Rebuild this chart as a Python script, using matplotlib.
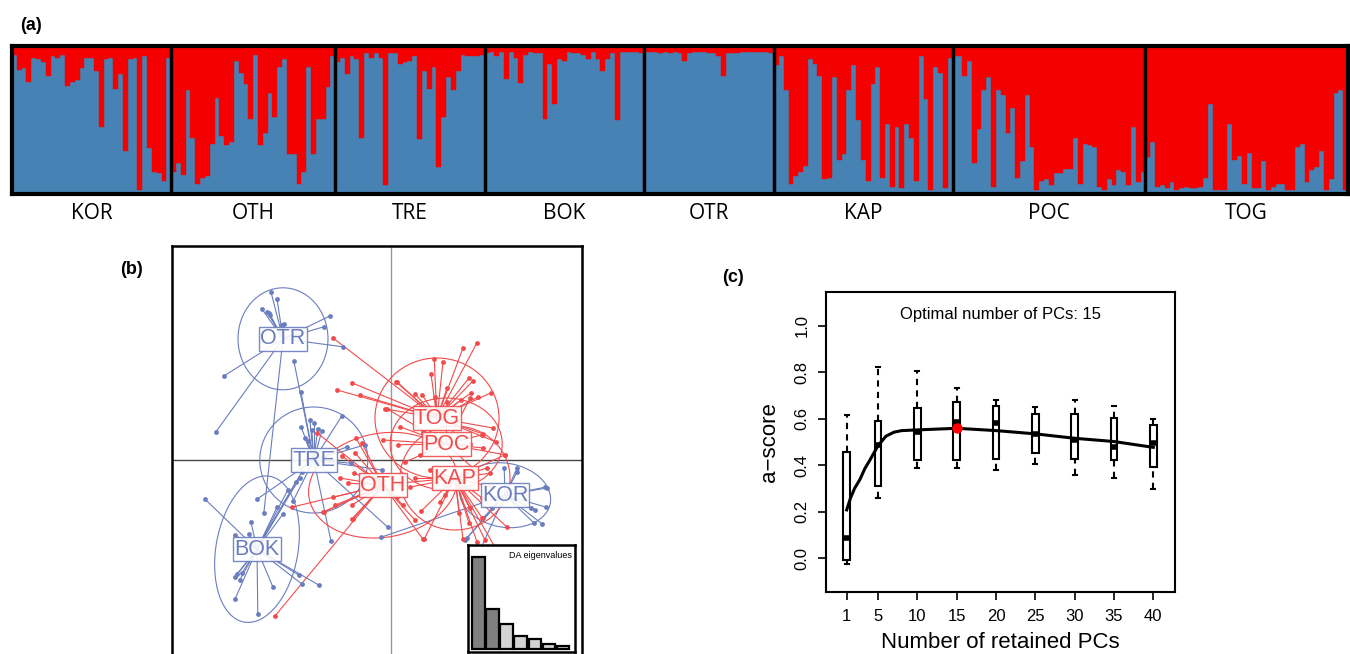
import numpy as np
import matplotlib.pyplot as plt
from matplotlib.patches import Ellipse
from matplotlib.transforms import blended_transform_factory

# ---------------- data: panel (a) membership (blue share per individual)
pops = ["KOR", "OTH", "TRE", "BOK", "OTR", "KAP", "POC", "TOG"]
kor = [0.94, 0.84, 0.85, 0.76, 0.92, 0.91, 0.89, 0.80, 0.93, 0.92, 0.94, 0.73, 0.76, 0.77, 0.85, 0.92, 0.92,
       0.83, 0.45, 0.91, 0.92, 0.71, 0.81, 0.29, 0.91, 0.92, 0.03, 0.93, 0.31, 0.15, 0.14, 0.09, 0.92]
oth = [0.15, 0.21, 0.13, 0.70, 0.38, 0.07, 0.11, 0.12, 0.34, 0.65, 0.39, 0.33, 0.35, 0.90, 0.82, 0.74, 0.51,
       0.94, 0.33, 0.41, 0.68, 0.52, 0.86, 0.91, 0.27, 0.27, 0.07, 0.15, 0.86, 0.27, 0.51, 0.51, 0.72, 0.93]
tre = [0.89, 0.92, 0.81, 0.93, 0.91, 0.38, 0.95, 0.92, 0.95, 0.92, 0.06, 0.95, 0.95, 0.88, 0.89, 0.90, 0.93,
       0.37, 0.83, 0.71, 0.86, 0.18, 0.52, 0.79, 0.70, 0.83, 0.94, 0.93, 0.93, 0.93, 0.94]
bok = [0.95, 0.96, 0.93, 0.96, 0.78, 0.96, 0.92, 0.75, 0.94, 0.96, 0.95, 0.95, 0.51, 0.88, 0.61, 0.91, 0.90,
       0.96, 0.95, 0.95, 0.94, 0.91, 0.96, 0.91, 0.83, 0.91, 0.95, 0.50, 0.96, 0.96, 0.96, 0.96, 0.95]
otr = [0.96, 0.96, 0.96, 0.95, 0.96, 0.95, 0.96, 0.95, 0.90, 0.95, 0.96, 0.96, 0.96, 0.95, 0.95, 0.93, 0.80,
       0.95, 0.95, 0.95, 0.96, 0.96, 0.96, 0.96, 0.96, 0.96, 0.95]
kap = [0.87, 0.93, 0.70, 0.07, 0.12, 0.15, 0.19, 0.91, 0.88, 0.80, 0.10, 0.11, 0.79, 0.23, 0.27, 0.70, 0.87,
       0.50, 0.23, 0.09, 0.74, 0.86, 0.11, 0.47, 0.05, 0.45, 0.04, 0.47, 0.38, 0.09, 0.93, 0.64, 0.03, 0.86,
       0.82, 0.04, 0.92]
poc = [0.93, 0.93, 0.80, 0.90, 0.21, 0.44, 0.70, 0.79, 0.05, 0.70, 0.67, 0.41, 0.58, 0.11, 0.22, 0.67, 0.32,
       0.03, 0.09, 0.10, 0.06, 0.14, 0.14, 0.17, 0.17, 0.38, 0.07, 0.34, 0.33, 0.32, 0.05, 0.03, 0.10, 0.06,
       0.16, 0.15, 0.06, 0.45, 0.08, 0.15]
tog = [0.25, 0.35, 0.05, 0.06, 0.04, 0.08, 0.03, 0.04, 0.05, 0.04, 0.04, 0.05, 0.11, 0.61, 0.03, 0.03, 0.03,
       0.47, 0.23, 0.26, 0.07, 0.28, 0.04, 0.04, 0.22, 0.03, 0.05, 0.07, 0.07, 0.03, 0.03, 0.32, 0.34, 0.08,
       0.16, 0.18, 0.29, 0.03, 0.10, 0.68, 0.70, 0.03]

# ---------------- data: panel (b) DAPC scatter (centroid + individuals)
otr_c = (-2.70, 3.03)
otr_pts = [(-3.00, 4.20), (-2.85, 4.03), (-3.23, 3.78), (-3.10, 3.70), (-3.05, 3.68), (-3.03, 3.63),
           (-2.73, 3.38), (-2.68, 3.40), (-1.53, 3.60), (-1.68, 3.33), (-1.20, 2.83), (-4.18, 2.10),
           (-4.38, 0.70), (-3.18, -1.33)]
tre_c = (-1.93, 0.0)
tre_pts = [(-2.25, 0.83), (-2.03, 1.00), (-1.93, 0.93), (-1.83, 0.78), (-1.73, 0.73), (-2.08, 0.48),
           (-1.23, 1.10), (-2.43, 2.48), (-2.25, 1.70), (-1.50, -2.03), (-0.08, -1.68), (-3.35, -0.98),
           (-2.45, -1.03), (-1.00, -0.08), (-0.65, 0.38), (-0.23, -0.25), (-1.10, 0.33), (-1.98, 0.75),
           (-2.15, 0.55)]
bok_c = (-3.35, -2.23)
bok_pts = [(-4.65, -0.98), (-3.90, -1.88), (-3.55, -1.85), (-3.50, -1.55), (-3.90, -2.93), (-3.85, -2.85),
           (-3.78, -3.00), (-3.73, -2.83), (-3.90, -3.48), (-3.33, -3.85), (-2.95, -3.18), (-2.30, -2.88),
           (-2.23, -3.10), (-1.80, -3.13), (-2.85, -1.18), (-2.70, -1.35), (-2.58, -0.75), (-2.38, -0.55),
           (-2.23, -0.30), (-2.28, -0.45)]
kor_c = (2.85, -0.88)
kor_pts = [(2.83, -0.20), (3.15, -0.20), (3.85, -0.68), (3.60, -1.25), (3.50, -1.20), (3.58, -1.58),
           (2.53, -1.20), (1.85, -2.00), (2.25, -2.20), (-0.25, -1.93), (3.90, -0.70), (3.88, -1.18),
           (3.78, -1.60), (3.15, -0.30), (1.90, -1.95), (2.30, -1.45)]
oth_c = (-0.20, -0.63)
oth_pts = [(-2.48, -1.18), (-1.68, -1.30), (-1.40, -1.13), (-0.98, -1.13), (-0.98, -1.48), (-1.28, -0.45),
           (-1.08, -0.58), (-0.93, -0.33), (-2.90, -3.90), (-1.23, 0.10), (-0.90, 0.18), (-1.85, 0.68),
           (-0.88, 0.55), (-0.73, 0.43), (-0.95, -1.48), (-1.45, -0.93), (-1.70, -1.30), (0.80, -1.98),
           (0.30, -1.13), (0.15, -0.93), (0.60, -1.50)]
tog_c = (1.15, 1.05)
tog_pts = [(1.80, 2.80), (2.15, 2.93), (1.08, 2.53), (1.30, 2.45), (1.00, 2.15), (0.13, 1.95), (1.95, 2.05),
           (2.05, 1.98), (1.40, 1.80), (2.50, 1.68), (2.00, 1.68), (2.18, 1.58), (0.60, 1.65), (0.78, 1.63),
           (1.10, 1.58), (1.75, 1.50), (-0.15, 1.28), (2.55, 0.80), (2.63, 0.45), (-1.45, 3.05),
           (-0.98, 1.93), (-1.35, 1.75), (-0.78, 1.63), (0.15, 1.95), (2.30, 0.65)]
poc_c = (1.38, 0.40)
poc_pts = [(-0.10, 1.28), (-0.20, 0.50), (0.18, 0.38), (0.23, 0.83), (2.28, 0.63), (2.30, 0.30), (2.85, 0.13),
           (1.98, 1.55), (1.40, 1.45), (0.80, 0.70), (0.35, -0.05), (1.98, 0.40), (0.73, 0.13), (2.10, -0.25)]
kap_c = (1.60, -0.45)
kap_pts = [(0.83, -1.98), (1.80, -1.98), (2.15, -2.05), (2.35, -2.00), (0.75, -1.28), (1.23, -1.05),
           (1.70, -1.33), (2.28, -1.45), (1.95, -1.58), (2.48, -0.33), (2.85, 0.13), (2.40, -0.20),
           (0.48, -0.68), (0.20, -0.58), (2.53, -0.68), (2.28, -0.95), (1.35, -0.88), (2.60, -2.18),
           (2.90, -1.68), (1.98, -1.20), (0.98, -0.25), (0.60, -0.45)]
da_eig = [1.0, 0.43, 0.27, 0.14, 0.11, 0.054, 0.027]

# ---------------- data: panel (c) a-score
n_pcs = [1, 5, 10, 15, 20, 25, 30, 35, 40]
wh_lo = [-0.024, 0.258, 0.387, 0.387, 0.380, 0.407, 0.358, 0.344, 0.297]
q1 = [-0.007, 0.312, 0.423, 0.423, 0.426, 0.451, 0.429, 0.423, 0.391]
med = [0.089, 0.487, 0.545, 0.588, 0.580, 0.535, 0.509, 0.477, 0.497]
q3 = [0.459, 0.590, 0.648, 0.671, 0.656, 0.621, 0.619, 0.602, 0.573]
wh_hi = [0.616, 0.824, 0.807, 0.731, 0.681, 0.652, 0.681, 0.656, 0.598]
fit_x = [1, 1.5, 2, 2.7, 3.3, 4, 5, 6, 7, 8, 10, 15, 20, 25, 30, 35, 40]
fit_y = [0.208, 0.26, 0.30, 0.34, 0.385, 0.425, 0.485, 0.525, 0.542, 0.549, 0.552, 0.559, 0.549, 0.535,
         0.516, 0.502, 0.477]
best_pc = 15
best_score = 0.559

BLUE_BAR = "#4682B4"
RED_BAR = "#F50000"
BLUE = "#6A7DBE"
RED = "#F24B4B"

W, H = 1350, 654
fig = plt.figure(figsize=(13.5, 6.54), dpi=100)


def px_axes(l, t, r, b):
    return fig.add_axes([l / W, 1 - b / H, (r - l) / W, (b - t) / H])


# ================= (a)
ax = px_axes(12, 46, 1348, 194)
groups = [kor, oth, tre, bok, otr, kap, poc, tog]
blue = np.concatenate(groups)
x = np.arange(len(blue))
ax.bar(x, blue, width=1.0, align="edge", color=BLUE_BAR, edgecolor=BLUE_BAR, linewidth=0.3)
ax.bar(x, 1 - blue, bottom=blue, width=1.0, align="edge", color=RED_BAR, edgecolor=RED_BAR, linewidth=0.3)
ax.set_xlim(0, len(blue))
ax.set_ylim(0, 1)
ax.set_xticks([])
ax.set_yticks([])
for s in ax.spines.values():
    s.set_linewidth(3)
bounds = np.cumsum([0] + [len(g) for g in groups])
for b in bounds[1:-1]:
    ax.axvline(b, color="black", lw=2.5)
tr = blended_transform_factory(ax.transData, ax.transAxes)
for i, name in enumerate(pops):
    ax.text((bounds[i] + bounds[i + 1]) / 2, -0.13, name, transform=tr, ha="center", va="center",
            fontsize=15, family="Open Sans")
fig.text(20 / W, 1 - 25 / H, "(a)", fontsize=13, fontweight="bold", family="Liberation Sans", va="center")

# ================= (b)
axb = px_axes(172, 246, 582, 658)
axb.set_xlim((172 - 391) / 40, (582 - 391) / 40)
axb.set_ylim((460 - 658) / 40, (460 - 246) / 40)
axb.axvline(0, color="#999999", lw=1.0, zorder=0)
axb.axhline(0, color="#444444", lw=1.0, zorder=0)

scatter_groups = [
    ("OTR", otr_c, otr_pts, BLUE, (2.25, 2.55, 0)),
    ("TRE", tre_c, tre_pts, BLUE, (2.7, 2.65, 0)),
    ("BOK", bok_c, bok_pts, BLUE, (3.7, 2.05, 80)),
    ("KOR", kor_c, kor_pts, BLUE, (2.3, 1.6, -10)),
    ("OTH", oth_c, oth_pts, RED, (3.75, 2.6, 10)),
    ("TOG", tog_c, tog_pts, RED, (3.1, 3.0, 0)),
    ("POC", poc_c, poc_pts, RED, (2.8, 2.3, 0)),
    ("KAP", kap_c, kap_pts, RED, (2.75, 2.6, 0)),
]
for name, c, pts, col, (ew, eh, ang) in scatter_groups:
    pts = np.array(pts)
    for px_, py_ in pts:
        axb.plot([c[0], px_], [c[1], py_], color=col, lw=0.8, zorder=2)
    axb.scatter(pts[:, 0], pts[:, 1], s=12, color=col, zorder=3, linewidths=0)
    axb.add_patch(Ellipse(c, ew, eh, angle=ang, fill=False, ec=col, lw=0.8, zorder=2))
for name, c, pts, col, _ in scatter_groups:
    axb.text(c[0], c[1], name, color=col, fontsize=15.5, ha="center", va="center",
             family="Liberation Sans", zorder=5,
             bbox=dict(boxstyle="square,pad=0.06", fc="white", ec=col, lw=1.0, alpha=0.9))
axb.set_xticks([])
axb.set_yticks([])
for s in axb.spines.values():
    s.set_linewidth(1.8)
fig.text(120 / W, 1 - 270 / H, "(b)", fontsize=13, fontweight="bold", family="Liberation Sans", va="center")

# inset eigenvalues
axi = px_axes(468, 545, 575, 652)
cols = ["#808080"] * 2 + ["#D3D3D3"] * (len(da_eig) - 2)
axi.bar(np.arange(len(da_eig)), da_eig, width=0.86, color=cols, edgecolor="black", linewidth=1.6)
axi.set_xlim(-0.75, 6.89)
axi.set_ylim(-0.033, 1.13)
axi.set_xticks([])
axi.set_yticks([])
for s in axi.spines.values():
    s.set_linewidth(1.8)
axi.text(0.97, 0.9, "DA eigenvalues", transform=axi.transAxes, ha="right", va="center", fontsize=6.5,
         family="Liberation Sans")

# ================= (c)
axc = px_axes(826, 292, 1175, 592)
axc.plot(fit_x, fit_y, color="black", lw=2.2, zorder=3)
bw = 0.85
for p, lo, a, m, b, hi in zip(n_pcs, wh_lo, q1, med, q3, wh_hi):
    axc.add_patch(plt.Rectangle((p - bw / 2, a), bw, b - a, fill=False, ec="black", lw=1.5, zorder=2))
    axc.plot([p, p], [b, hi], color="black", lw=1.5, ls=(0, (3, 2.5)), zorder=2)
    axc.plot([p, p], [lo, a], color="black", lw=1.5, ls=(0, (3, 2.5)), zorder=2)
    axc.plot([p - 0.25, p + 0.25], [hi, hi], color="black", lw=1.5, zorder=2)
    axc.plot([p - 0.25, p + 0.25], [lo, lo], color="black", lw=1.5, zorder=2)
    axc.plot([p - bw / 2, p + bw / 2], [m, m], color="black", lw=4, solid_capstyle="butt", zorder=4)
axc.plot([best_pc], [best_score], "o", color="red", ms=6.5, zorder=5)
axc.set_xlim(-1.63, 42.76)
axc.set_ylim(-0.145, 1.145)
axc.set_xticks(n_pcs)
axc.set_xticklabels([str(v) for v in n_pcs], fontsize=12, family="Liberation Sans")
yt = [0.0, 0.2, 0.4, 0.6, 0.8, 1.0]
axc.set_yticks(yt)
axc.set_yticklabels(["%.1f" % v for v in yt], rotation=90, va="center", fontsize=12, family="Liberation Sans")
axc.tick_params(direction="out", length=6, width=1.2, pad=6)
for s in axc.spines.values():
    s.set_linewidth(1.5)
axc.set_ylabel("a\u2212score", fontsize=16, family="Liberation Sans", labelpad=10)
axc.set_xlabel("Number of retained PCs", fontsize=16, family="Liberation Sans", labelpad=6)
axc.text(0.5, 0.925, "Optimal number of PCs: %d" % best_pc, transform=axc.transAxes, ha="center",
         va="center", fontsize=12, family="Liberation Sans")
fig.text(722 / W, 1 - 277 / H, "(c)", fontsize=13, fontweight="bold", family="Liberation Sans", va="center")

fig.savefig("out.png", dpi=100)
